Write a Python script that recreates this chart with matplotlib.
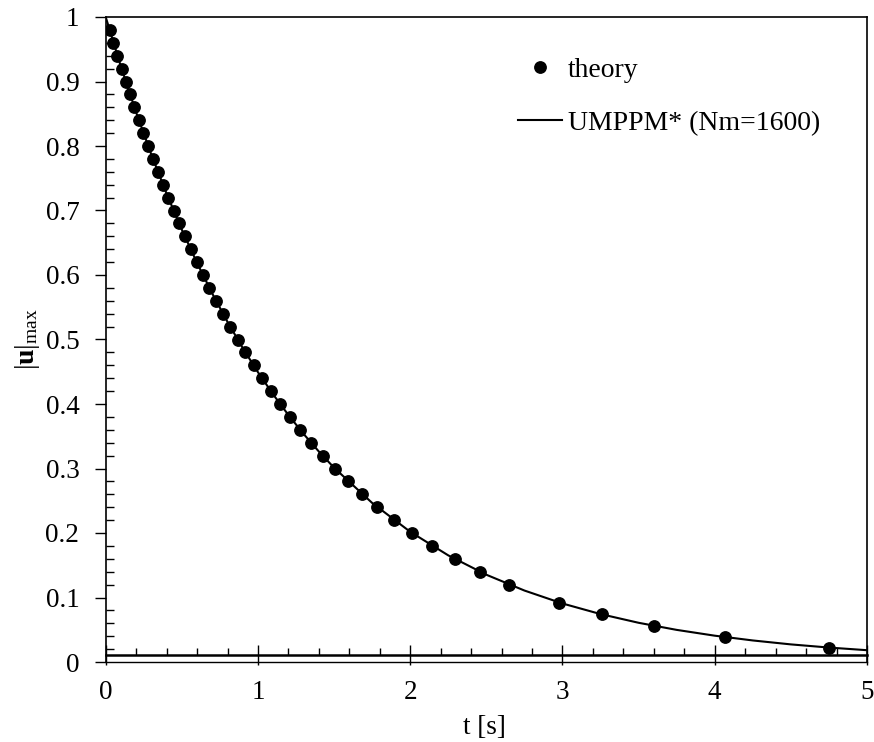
import numpy as np
import matplotlib
matplotlib.use("Agg")
import matplotlib.pyplot as plt
from matplotlib.ticker import MultipleLocator, FormatStrFormatter

plt.rcParams['font.family'] = ['Liberation Serif', 'DejaVu Serif']
plt.rcParams['mathtext.fontset'] = 'custom'
plt.rcParams['mathtext.rm'] = 'Liberation Serif'
plt.rcParams['mathtext.it'] = 'Liberation Serif:italic'
plt.rcParams['mathtext.bf'] = 'Liberation Serif:bold'

# Theory points
t_theory = [0.025, 0.051, 0.077, 0.104, 0.132, 0.160, 0.189, 0.218, 0.248, 0.279,
            0.311, 0.343, 0.376, 0.411, 0.446, 0.482, 0.519, 0.558, 0.598, 0.639,
            0.681, 0.725, 0.770, 0.817, 0.866, 0.918, 0.971, 1.026, 1.084, 1.145,
            1.210, 1.277, 1.349, 1.424, 1.505, 1.591, 1.684, 1.784, 1.893, 2.012,
            2.144, 2.291, 2.458, 2.650, 2.98, 3.26, 3.60, 4.07, 4.75]
u_theory = [0.98, 0.96, 0.94, 0.92, 0.90, 0.88, 0.86, 0.84, 0.82, 0.80,
            0.78, 0.76, 0.74, 0.72, 0.70, 0.68, 0.66, 0.64, 0.62, 0.60,
            0.58, 0.56, 0.54, 0.52, 0.50, 0.48, 0.46, 0.44, 0.42, 0.40,
            0.38, 0.36, 0.34, 0.32, 0.30, 0.28, 0.26, 0.24, 0.22, 0.20,
            0.18, 0.16, 0.14, 0.12, 0.092, 0.074, 0.056, 0.039, 0.022]

# UMPPM* (Nm=1600) curve
t_umppm = [0.0, 0.1, 0.2, 0.3, 0.4, 0.5, 0.6, 0.7, 0.8, 0.9, 1.0, 1.1, 1.2, 1.3, 1.4, 1.5,
           1.75, 2.0, 2.25, 2.5, 2.75, 3.0, 3.25, 3.5, 3.75, 4.0, 4.25, 4.5, 4.75, 5.0]
u_umppm = [1.0, 0.9231, 0.8521, 0.7866, 0.7261, 0.6703, 0.6188, 0.5712, 0.5273, 0.4868,
           0.4493, 0.4148, 0.3829, 0.3535, 0.3263, 0.3012,
           0.2466, 0.2019, 0.1653, 0.1353, 0.1108, 0.0907, 0.0743, 0.0608, 0.0498,
           0.0408, 0.0334, 0.0273, 0.0224, 0.0183]

fig = plt.figure(figsize=(8.74, 7.42), dpi=100)
ax = fig.add_axes([105.7 / 874, 1 - 662 / 742, (867 - 105.7) / 874, (662 - 17) / 742])

ax.plot(t_umppm, u_umppm, color='black', lw=1.5, label='UMPPM* (Nm=1600)', zorder=2)
ax.plot(t_theory, u_theory, 'o', color='black', ms=8.2, label='theory', zorder=3)

ax.set_xlim(0, 5)
ax.set_ylim(0, 1)

# x axis drawn slightly above the plot-area bottom edge
x_axis_level = 0.0105
ax.spines['bottom'].set_position(('data', x_axis_level))
ax.spines['bottom'].set_linewidth(1.8)
ax.axhline(0, color='black', lw=1.0, clip_on=False, zorder=4)
for s in ['left', 'right', 'top']:
    ax.spines[s].set_linewidth(1.2)

ax.xaxis.set_major_locator(MultipleLocator(1))
ax.xaxis.set_minor_locator(MultipleLocator(0.2))
ax.yaxis.set_major_locator(MultipleLocator(0.1))
ax.yaxis.set_minor_locator(MultipleLocator(0.02))
ax.yaxis.set_major_formatter(FormatStrFormatter('%g'))
ax.xaxis.set_major_formatter(FormatStrFormatter('%g'))

ax.tick_params(axis='x', which='major', direction='inout', length=14, width=1.0, pad=11, labelsize=19.5)
ax.tick_params(axis='x', which='minor', direction='in', length=5, width=1.0)
ax.tick_params(axis='y', which='major', direction='out', length=8, width=1.0, pad=11, labelsize=19.5)
ax.tick_params(axis='y', which='minor', direction='in', length=6, width=1.0)

fig.text(28 / 874, 1 - 339 / 742, r'$|\mathbf{u}|_{\mathrm{max}}$', rotation=90,
         ha='center', va='center', fontsize=20)
fig.text(484 / 874, 1 - 728 / 742, 't [s]', ha='center', va='center', fontsize=19.5)

handles, labels = ax.get_legend_handles_labels()
ax.legend(handles[::-1], labels[::-1], loc='upper left', frameon=False,
          bbox_to_anchor=(518 / 874, 1 - 57.5 / 742), bbox_transform=fig.transFigure,
          borderpad=0, borderaxespad=0, fontsize=20, handlelength=1.58,
          handletextpad=0.22, labelspacing=1.0)

fig.savefig('out.png', dpi=100)
